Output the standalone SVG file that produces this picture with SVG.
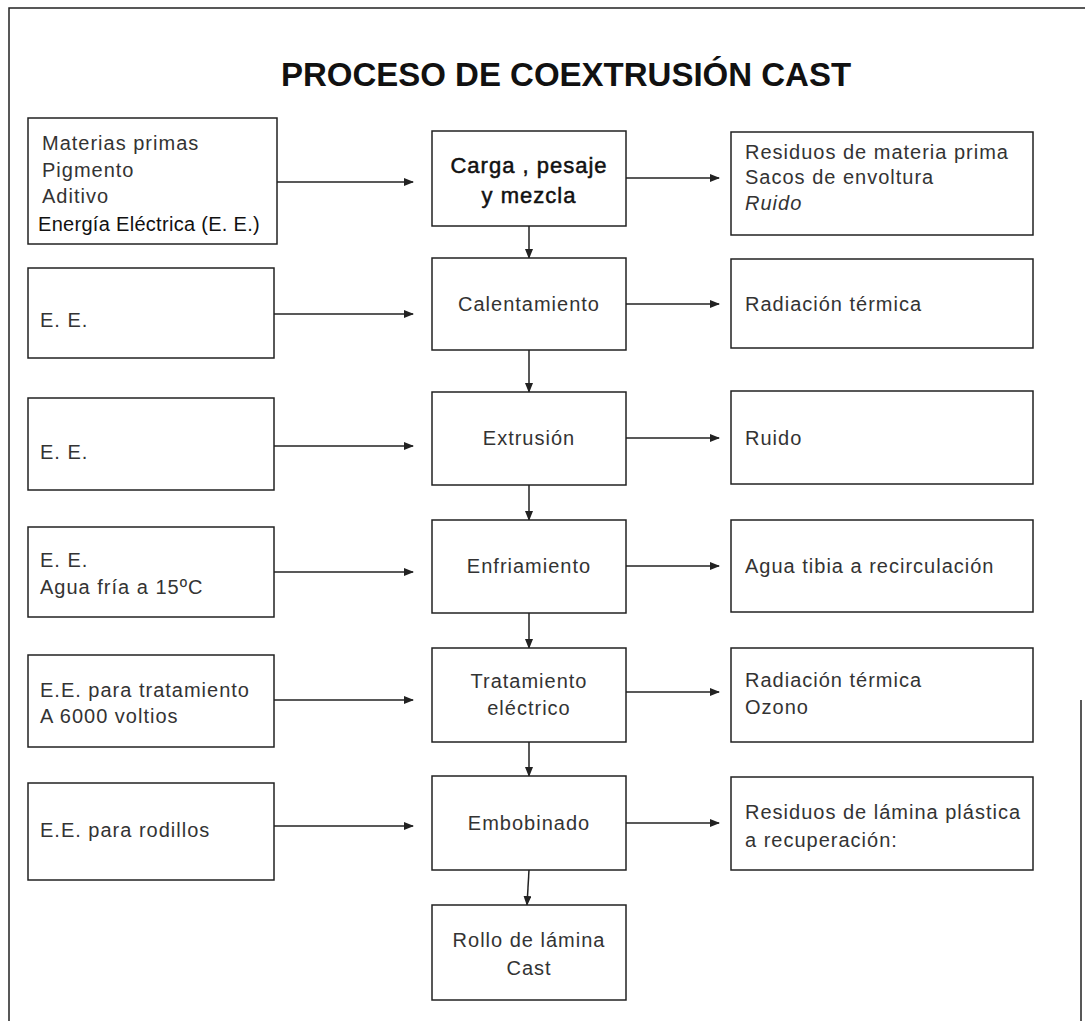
<svg xmlns="http://www.w3.org/2000/svg" width="1085" height="1021" viewBox="0 0 1085 1021">
<style>
.box{fill:#fff;stroke:#222;stroke-width:1.5}
.t{font-family:"Liberation Sans",Arial,sans-serif;font-size:20px;fill:#333;letter-spacing:1px}
.tc{font-family:"Liberation Sans",Arial,sans-serif;font-size:20px;fill:#333;letter-spacing:1px;text-anchor:middle}
.tb{font-size:22px;fill:#111;stroke:#111;stroke-width:0.5px}
.frame{fill:none;stroke:#222;stroke-width:1.5}
.c{fill:none;stroke:#222;stroke-width:1.5;marker-end:url(#ah)}
</style>
<defs>
<marker id="ah" markerWidth="10" markerHeight="8" refX="9" refY="4" orient="auto" markerUnits="userSpaceOnUse">
<path d="M0,0 L10,4 L0,8 z" fill="#222"/>
</marker>
</defs>
<rect width="1085" height="1021" fill="#fff"/>
<path class="frame" d="M9,1021 L9,8 L1085,8 M1081,700 L1081,1021"/>
<text x="566" y="86" text-anchor="middle" font-family="Liberation Sans,Arial,sans-serif" font-size="33" font-weight="bold" fill="#111">PROCESO DE COEXTRUSIÓN CAST</text>

<g id="connectors">
<line class="c" x1="277" y1="182" x2="413" y2="182"/>
<line class="c" x1="626" y1="178" x2="719" y2="178"/>
<line class="c" x1="529" y1="226" x2="529" y2="258"/>
<line class="c" x1="274" y1="314" x2="413" y2="314"/>
<line class="c" x1="626" y1="304" x2="719" y2="304"/>
<line class="c" x1="529" y1="350" x2="529" y2="392"/>
<line class="c" x1="274" y1="446" x2="413" y2="446"/>
<line class="c" x1="626" y1="438" x2="719" y2="438"/>
<line class="c" x1="529" y1="485" x2="529" y2="520"/>
<line class="c" x1="274" y1="572" x2="413" y2="572"/>
<line class="c" x1="626" y1="566" x2="719" y2="566"/>
<line class="c" x1="529" y1="613" x2="529" y2="648"/>
<line class="c" x1="274" y1="700" x2="413" y2="700"/>
<line class="c" x1="626" y1="692" x2="719" y2="692"/>
<line class="c" x1="529" y1="742" x2="529" y2="776"/>
<line class="c" x1="274" y1="826" x2="413" y2="826"/>
<line class="c" x1="626" y1="823" x2="719" y2="823"/>
<line class="c" x1="529" y1="870" x2="527" y2="905"/>
</g>

<g id="in1"><rect class="box" x="28" y="118" width="249" height="126"/>
<text class="t" x="42" y="150">Materias primas</text>
<text class="t" x="42" y="177">Pigmento</text>
<text class="t" x="42" y="203">Aditivo</text>
<text class="t" x="38" y="231" style="fill:#111;letter-spacing:0.3px">Energía Eléctrica (E. E.)</text></g>
<g id="p1"><rect class="box" x="432" y="131" width="194" height="95"/>
<text class="tc tb" x="529" y="173">Carga , pesaje</text>
<text class="tc tb" x="529" y="203">y mezcla</text></g>
<g id="out1"><rect class="box" x="731" y="132" width="302" height="103"/>
<text class="t" x="745" y="159">Residuos de materia prima</text>
<text class="t" x="745" y="184">Sacos de envoltura</text>
<text class="t" x="745" y="210" font-style="italic">Ruido</text></g>

<g id="in2"><rect class="box" x="28" y="268" width="246" height="90"/>
<text class="t" x="40" y="327">E. E.</text></g>
<g id="p2"><rect class="box" x="432" y="258" width="194" height="92"/>
<text class="tc" x="529" y="311">Calentamiento</text></g>
<g id="out2"><rect class="box" x="731" y="259" width="302" height="89"/>
<text class="t" x="745" y="311">Radiación térmica</text></g>

<g id="in3"><rect class="box" x="28" y="398" width="246" height="92"/>
<text class="t" x="40" y="459">E. E.</text></g>
<g id="p3"><rect class="box" x="432" y="392" width="194" height="93"/>
<text class="tc" x="529" y="445">Extrusión</text></g>
<g id="out3"><rect class="box" x="731" y="391" width="302" height="93"/>
<text class="t" x="745" y="445">Ruido</text></g>

<g id="in4"><rect class="box" x="28" y="527" width="246" height="90"/>
<text class="t" x="40" y="567">E. E.</text>
<text class="t" x="40" y="594">Agua fría a 15ºC</text></g>
<g id="p4"><rect class="box" x="432" y="520" width="194" height="93"/>
<text class="tc" x="529" y="573">Enfriamiento</text></g>
<g id="out4"><rect class="box" x="731" y="520" width="302" height="92"/>
<text class="t" x="745" y="573">Agua tibia a recirculación</text></g>

<g id="in5"><rect class="box" x="28" y="655" width="246" height="92"/>
<text class="t" x="40" y="697">E.E. para tratamiento</text>
<text class="t" x="40" y="723">A 6000 voltios</text></g>
<g id="p5"><rect class="box" x="432" y="648" width="194" height="94"/>
<text class="tc" x="529" y="688">Tratamiento</text>
<text class="tc" x="529" y="715">eléctrico</text></g>
<g id="out5"><rect class="box" x="731" y="648" width="302" height="94"/>
<text class="t" x="745" y="687">Radiación térmica</text>
<text class="t" x="745" y="714">Ozono</text></g>

<g id="in6"><rect class="box" x="28" y="783" width="246" height="97"/>
<text class="t" x="40" y="837">E.E. para rodillos</text></g>
<g id="p6"><rect class="box" x="432" y="776" width="194" height="94"/>
<text class="tc" x="529" y="830">Embobinado</text></g>
<g id="out6"><rect class="box" x="731" y="777" width="302" height="93"/>
<text class="t" x="745" y="819">Residuos de lámina plástica</text>
<text class="t" x="745" y="847">a recuperación:</text></g>

<g id="p7"><rect class="box" x="432" y="905" width="194" height="95"/>
<text class="tc" x="529" y="947">Rollo de lámina</text>
<text class="tc" x="529" y="975">Cast</text></g>
</svg>
